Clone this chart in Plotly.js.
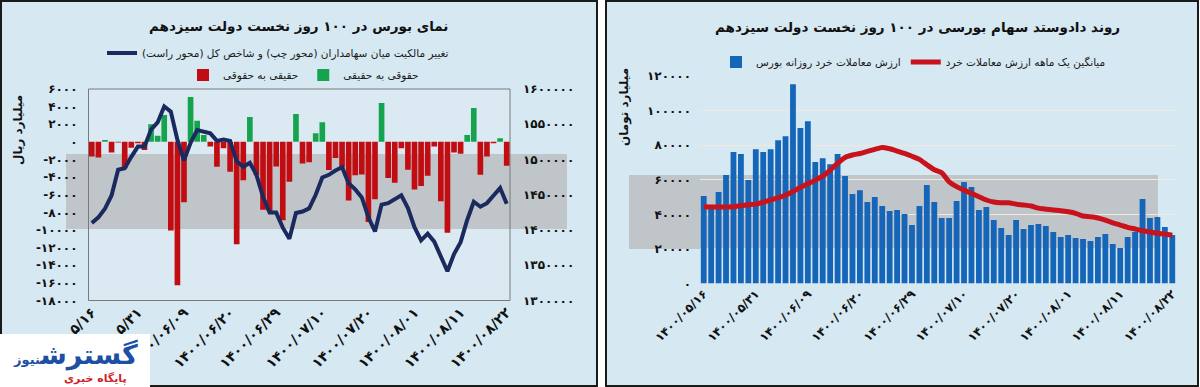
<!DOCTYPE html>
<html><head><meta charset="utf-8">
<script src="https://cdn.plot.ly/plotly-3.0.1.min.js"></script>
<style>html,body{margin:0;padding:0;background:#fff}#chart{width:1200px;height:387px}</style>
</head><body><div id="chart"></div>
<script>
// ---------- data ----------
const dayIndex = [0,1,2,3,4,5,6,7,8,9,10,11,12,13,14,15,16,17,18,19,20,21,22,23,24,25,26,27,28,29,30,31,
  32,33,34,35,36,37,38,39,40,41,42,43,44,45,46,47,48,49,50,51,52,53,54,55,56,57,58,59,60,61,62,63];
const dateTickPos = [0,7,14,21,28,35,42,49,56,63];
const dateTickText = ["۱۴۰۰/۰۵/۱۶","۱۴۰۰/۰۵/۳۱","۱۴۰۰/۰۶/۰۹","۱۴۰۰/۰۶/۲۰","۱۴۰۰/۰۶/۲۹",
  "۱۴۰۰/۰۷/۱۰","۱۴۰۰/۰۷/۲۰","۱۴۰۰/۰۸/۰۱","۱۴۰۰/۰۸/۱۱","۱۴۰۰/۰۸/۲۲"];

// left chart: net ownership change (billion rial), left axis
const netOwnershipChange = [-1660,-1780,220,-1210,-80,-2980,-660,-150,-910,2000,700,3060,-10060,-16260,-6850,5100,
  2400,790,-530,-2830,-720,-3400,-11620,-4350,2820,-3800,-7700,-7850,-2800,-8900,-4520,3150,
  -2450,-2300,980,2220,-3200,-1830,-2900,-6660,-3800,-3700,-9100,-6500,4420,-4100,-4650,-720,
  -3170,-5400,-5000,-3840,-530,-6750,-10300,-1210,-1360,790,3850,-3740,-1660,-150,420,-2720];
// left chart: total index (right axis)
const totalIndex = [1409900,1417900,1430200,1449000,1485400,1487500,1503800,1518300,1518300,1542500,1552600,1575200,
  1567900,1527800,1498800,1523600,1541600,1539600,1537000,1526400,1528400,1526400,1497300,1489600,
  1495300,1478300,1447200,1424900,1424700,1403300,1387700,1424200,1426200,1430600,1450000,1474500,
  1478300,1484400,1489000,1466300,1457600,1446300,1418100,1398000,1436000,1438100,1444200,1449300,
  1431200,1404000,1385300,1394800,1383500,1362200,1341400,1365800,1382800,1414200,1440100,1433000,
  1438100,1449000,1459500,1437200];

// right chart: daily retail trade value (billion toman) and one-month average
const dailyRetailValue = [50600,44000,52900,62700,76000,74900,59800,77700,76000,77700,82900,85200,115300,89900,93900,70200,
  72500,68900,74900,62100,51700,54000,47100,50000,44800,41900,42500,40200,33800,44800,56900,47100,
  37900,37900,47700,58700,55800,42500,44200,36700,32100,28000,36700,31500,33800,34400,33200,29800,
  26900,28000,26300,25700,24600,26900,28600,22800,20500,26900,29800,48800,37900,38400,32700,28000];
const monthlyAvgValue = [44400,44300,44200,44300,44400,45000,45500,45900,47000,48300,49600,51000,53200,55600,57700,59800,
  62100,65600,69500,72900,74300,75200,76400,77600,78700,77900,76600,75200,73600,71800,68700,65800,
  64000,58800,56000,54000,52100,50200,48300,47100,46700,46700,45900,45400,44800,43600,43000,42500,
  42100,41500,40600,39000,38600,37900,36700,35100,33800,32500,31500,30500,29800,29000,28600,27900];

const leftAxisTicks = [6000,4000,2000,0,-2000,-4000,-6000,-8000,-10000,-12000,-14000,-16000,-18000];
const indexAxisTicks = [1600000,1550000,1500000,1450000,1400000,1350000,1300000];
const valueAxisTicks = [0,20000,40000,60000,80000,100000,120000];

// ---------- helpers ----------
const fa = v => String(v).replace(/\d/g, d => '۰۱۲۳۴۵۶۷۸۹'[d]);
const RLM = '\u200F';
const W = 1200, H = 387;
const px = x => x / W, py = y => 1 - y / H;
const FONT = 'DejaVu Sans';

const posX = [], posY = [], negX = [], negY = [];
netOwnershipChange.forEach((v, i) => {
  if (v >= 0) { posX.push(dayIndex[i]); posY.push(v); } else { negX.push(dayIndex[i]); negY.push(v); }
});

const traces = [
  { type:'bar', x:negX, y:negY, xaxis:'x', yaxis:'y', width:0.86, name:'حقیقی به حقوقی',
    marker:{color:'#c10d12'}, legend:'legend2', hoverinfo:'skip' },
  { type:'bar', x:posX, y:posY, xaxis:'x', yaxis:'y', width:0.86, name:'حقوقی به حقیقی',
    marker:{color:'#16a34e'}, legend:'legend2', hoverinfo:'skip' },
  { type:'scatter', mode:'lines', x:dayIndex, y:totalIndex, xaxis:'x', yaxis:'y2',
    name:'تغییر مالکیت میان سهامداران (محور چپ) و شاخص کل (محور راست)' + RLM,
    line:{color:'#1b2a5e', width:4}, legend:'legend', hoverinfo:'skip' },
  { type:'bar', x:dayIndex, y:dailyRetailValue, xaxis:'x2', yaxis:'y3', width:0.78,
    name:'ارزش معاملات خرد روزانه بورس', marker:{color:'#1565b9'}, legend:'legend3', hoverinfo:'skip' },
  { type:'scatter', mode:'lines', x:dayIndex, y:monthlyAvgValue, xaxis:'x2', yaxis:'y3',
    name:'میانگین یک ماهه ارزش معاملات خرد', line:{color:'#c8121c', width:5, shape:'spline', smoothing:0.6},
    legend:'legend3', hoverinfo:'skip' }
];

const tickFontL = {family:FONT, size:12, color:'#111', weight:'bold'};
const dateFontL = {family:FONT, size:14, color:'#111', weight:'bold'};
const dateFontR = {family:FONT, size:12, color:'#111', weight:'bold'};
const legFont = {family:FONT, size:10.5, color:'#1a1a1a'};
const titleFont = {family:FONT, size:13.5, color:'#111', weight:'bold'};

const layout = {
  width:W, height:H, margin:{l:0, r:0, t:0, b:0},
  paper_bgcolor:'#ffffff', plot_bgcolor:'rgba(0,0,0,0)',
  font:{family:FONT, color:'#111'},
  barmode:'overlay', showlegend:true,
  xaxis:{domain:[px(88.5), px(510)], range:[-0.5, 63.5], anchor:'y',
    tickmode:'array', tickvals:dateTickPos, ticktext:dateTickText, tickangle:-45,
    showgrid:false, zeroline:false, showline:false, ticks:'', tickfont:dateFontL},
  yaxis:{domain:[py(300.5), py(89)], range:[-18000, 6000], anchor:'x',
    tickmode:'array', tickvals:leftAxisTicks, ticktext:leftAxisTicks.map(fa),
    showgrid:false, zeroline:false, showline:false, ticks:'', tickfont:tickFontL, ticklabelstandoff:10},
  yaxis2:{overlaying:'y', side:'right', anchor:'x', range:[1300000, 1600000],
    tickmode:'array', tickvals:indexAxisTicks, ticktext:indexAxisTicks.map(fa),
    showgrid:false, zeroline:false, showline:false, ticks:'', tickfont:tickFontL, ticklabelstandoff:12},
  xaxis2:{domain:[px(700), px(1176)], range:[-0.5, 63.5], anchor:'y3',
    tickmode:'array', tickvals:dateTickPos, ticktext:dateTickText, tickangle:-45,
    showgrid:false, zeroline:false, showline:false, ticks:'', tickfont:dateFontR},
  yaxis3:{domain:[py(283.5), py(76)], range:[0, 120000], anchor:'x2',
    tickmode:'array', tickvals:valueAxisTicks, ticktext:valueAxisTicks.map(fa),
    showgrid:true, gridcolor:'#efe9de', gridwidth:1, zeroline:false, showline:false, ticks:'',
    tickfont:tickFontL, ticklabelstandoff:8},
  legend:{x:px(102), y:py(53), xanchor:'left', yanchor:'middle', orientation:'h',
    bgcolor:'rgba(0,0,0,0)', font:legFont},
  legend2:{x:px(183), y:py(75), xanchor:'left', yanchor:'middle', orientation:'h',
    bgcolor:'rgba(0,0,0,0)', font:legFont},
  legend3:{x:px(716), y:py(62), xanchor:'left', yanchor:'middle', orientation:'h',
    bgcolor:'rgba(0,0,0,0)', font:legFont},
  shapes:[
    {type:'rect', xref:'paper', yref:'paper', x0:px(1), x1:px(597), y0:py(386), y1:py(1),
      fillcolor:'#d6e8f1', line:{color:'#1a1a1a', width:2}, layer:'below'},
    {type:'rect', xref:'paper', yref:'paper', x0:px(606), x1:px(1198), y0:py(386), y1:py(1),
      fillcolor:'#d6e8f1', line:{color:'#1a1a1a', width:2}, layer:'below'},
    {type:'rect', xref:'x domain', yref:'y domain', x0:0, x1:1, y0:0, y1:1,
      fillcolor:'#dbeaf2', line:{width:0}, layer:'below'},
    {type:'rect', xref:'paper', yref:'paper', x0:px(66), x1:px(567), y0:py(229), y1:py(154),
      fillcolor:'#bfc5c9', line:{width:0}, layer:'below'},
    {type:'rect', xref:'paper', yref:'paper', x0:px(629), x1:px(1158), y0:py(249), y1:py(175),
      fillcolor:'#bfc5c9', line:{width:0}, layer:'below'},
    {type:'rect', xref:'x domain', yref:'y domain', x0:0, x1:1, y0:0, y1:1,
      fillcolor:'rgba(0,0,0,0)', line:{color:'#7a7a7a', width:1}, layer:'below'},
    {type:'rect', xref:'paper', yref:'paper', x0:0, x1:px(150), y0:0, y1:py(334),
      fillcolor:'#ffffff', line:{width:0}, layer:'above'}
  ],
  annotations:[
    {xref:'paper', yref:'paper', x:px(298), y:py(26), xanchor:'center', yanchor:'middle',
      text:'نمای بورس در ۱۰۰ روز نخست دولت سیزدهم', showarrow:false, font:titleFont},
    {xref:'paper', yref:'paper', x:px(917), y:py(27), xanchor:'center', yanchor:'middle',
      text:'روند دادوستد سهام بورسی در ۱۰۰ روز نخست دولت سیزدهم', showarrow:false, font:titleFont},
    {xref:'paper', yref:'paper', x:px(18), y:py(130), xanchor:'center', yanchor:'middle',
      text:'میلیارد ریال', textangle:-90,
      showarrow:false, font:{family:FONT, size:12, color:'#111', weight:'bold'}},
    {xref:'paper', yref:'paper', x:px(625), y:py(107), xanchor:'center', yanchor:'middle',
      text:'میلیارد تومان', textangle:-90,
      showarrow:false, font:{family:FONT, size:12, color:'#111', weight:'bold'}},
    {xref:'paper', yref:'paper', x:px(75), y:py(355), xanchor:'center', yanchor:'middle',
      text:'گسترش<span style="font-size:13px">نیوز</span>',
      showarrow:false, font:{family:FONT, size:27, color:'#1d4fa6', weight:'bold'}},
    {xref:'paper', yref:'paper', x:px(95), y:py(378), xanchor:'center', yanchor:'middle',
      text:'پایگاه خبری',
      showarrow:false, font:{family:FONT, size:11, color:'#d11f26', weight:'bold'}}
  ]
};

Plotly.newPlot('chart', traces, layout, {staticPlot:true, displayModeBar:false});
</script>
</body></html>
